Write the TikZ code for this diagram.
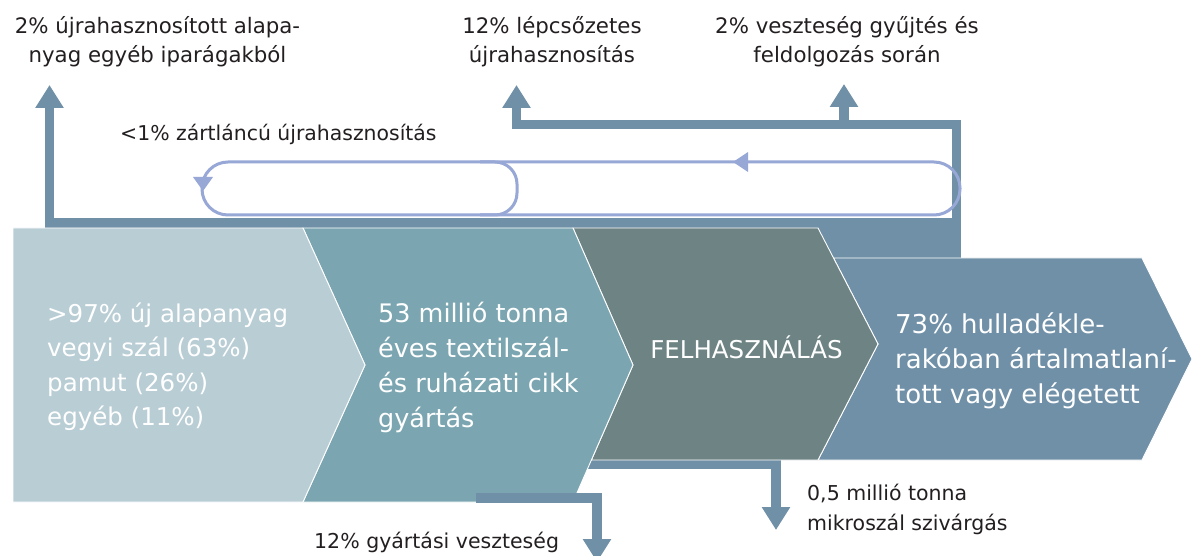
\documentclass[tikz,border=0pt]{standalone}
\usepackage{fontspec}
\setmainfont{DejaVu Sans}
\usetikzlibrary{arrows.meta}
\definecolor{cblue}{HTML}{7090A8}
\definecolor{bxa}{HTML}{B9CDD5}
\definecolor{bxb}{HTML}{7BA6B1}
\definecolor{bxc}{HTML}{6E8384}
\definecolor{loopc}{HTML}{97A7D6}
\definecolor{txt}{HTML}{231F20}
\begin{document}
\begin{tikzpicture}[x=1pt,y=-1pt,
  conn/.style={draw=cblue,line width=9.5pt,line join=miter},
  tipA/.style={-{Triangle[length=23pt,width=27pt]}},
  boxshape/.style={draw=white,line width=0.9pt,line join=miter},
  lp/.style={draw=loopc,line width=3pt},
  lbl/.style={text=txt,font=\fontsize{21.3}{29}\selectfont,inner sep=0pt,align=center},
  slbl/.style={text=txt,font=\fontsize{20.5}{30}\selectfont,inner sep=0pt,align=left},
  wtxt/.style={text=white,inner sep=0pt,align=left}]
\useasboundingbox (0,0) rectangle (1192,556);
\fill[white] (0,0) rectangle (1192,556);

% text labels (base anchor = baseline of last line)
\node[lbl,anchor=base] (recyc) at (157.5,63) {2\% újrahasznosított alapa-\\nyag egyéb iparágakból};
\node[lbl,anchor=base] (casc) at (552,63) {12\% lépcsőzetes\\újrahasznosítás};
\node[lbl,anchor=base] (loss) at (847,63) {2\% veszteség gyűjtés és\\feldolgozás során};
\node[slbl,anchor=base west,font=\fontsize{20.4}{30}\selectfont] (closed) at (120,141) {<1\% zártláncú újrahasznosítás};
\node[slbl,anchor=base west] (prodloss) at (314,548) {12\% gyártási veszteség};
\node[slbl,anchor=base west] (micro) at (807,530) {0,5 millió tonna\\mikroszál szivárgás};

% connector end points
\coordinate (recycTip) at (49.5,85);
\coordinate (cascTip) at (516.5,85);
\coordinate (lossTip) at (844,84);
\coordinate (prodTip) at (597,562);
\coordinate (microTip) at (776,530);

% blue junction region
\fill[cblue] (810,218) rectangle (961,258);

% upper connectors
\draw[conn,tipA] (961,223) -- (49.5,223) -- (recycTip);
\draw[conn,tipA] (956.5,258) -- (956.5,124.5) -- (516.5,124.5) -- (cascTip);
\draw[conn,tipA] (844,124.5) -- (lossTip);

% microfibre connector (behind boxes)
\draw[conn,tipA] (575,464.5) -- (776,464.5) -- (microTip);

% boxes
\path[boxshape,fill=cblue] (833.5,258) -- (1142,258) -- (1192,359) -- (1142,460) -- (818,460) -- (878,344) -- cycle;
\path[boxshape,fill=bxc] (573,228) -- (818,228) -- (878,344) -- (818,460) -- (591.4,460) -- (633,365) -- cycle;
\path[boxshape,fill=bxb] (303,228) -- (573,228) -- (633,365) -- (573,502) -- (303,502) -- (365,365) -- cycle;
\path[boxshape,fill=bxa] (13,228) -- (303,228) -- (365,365) -- (303,502) -- (13,502) -- cycle;

% production loss connector (over box)
\draw[conn,tipA] (476,498) -- (597,498) -- (prodTip);

% closed loop
\draw[lp,rounded corners=26] (202,162) rectangle (960,215);
\draw[lp,rounded corners=22] (480,162) -- (517,162) -- (517,215) -- (480,215);
\fill[loopc] (733,162) -- (748,152) -- (748,172) -- cycle;
\fill[loopc] (193,177) -- (213,177) -- (203,191) -- cycle;

% box texts
\node[wtxt,anchor=base west,font=\fontsize{24.5}{34.5}\selectfont] (raw) at (47,425.5) {>97\% új alapanyag\\vegyi szál (63\%)\\pamut (26\%)\\egyéb (11\%)};
\node[wtxt,anchor=base west,font=\fontsize{25.5}{35}\selectfont] (prod) at (378,427) {53 millió tonna\\éves textilszál-\\és ruházati cikk\\gyártás};
\node[wtxt,anchor=base,font=\fontsize{24.5}{35}\selectfont] (use) at (746.5,358) {FELHASZNÁLÁS};
\node[wtxt,anchor=base west,font=\fontsize{26}{35}\selectfont] (waste) at (895,403) {73\% hulladékle-\\rakóban ártalmatlaní-\\tott vagy elégetett};
\end{tikzpicture}
\end{document}
